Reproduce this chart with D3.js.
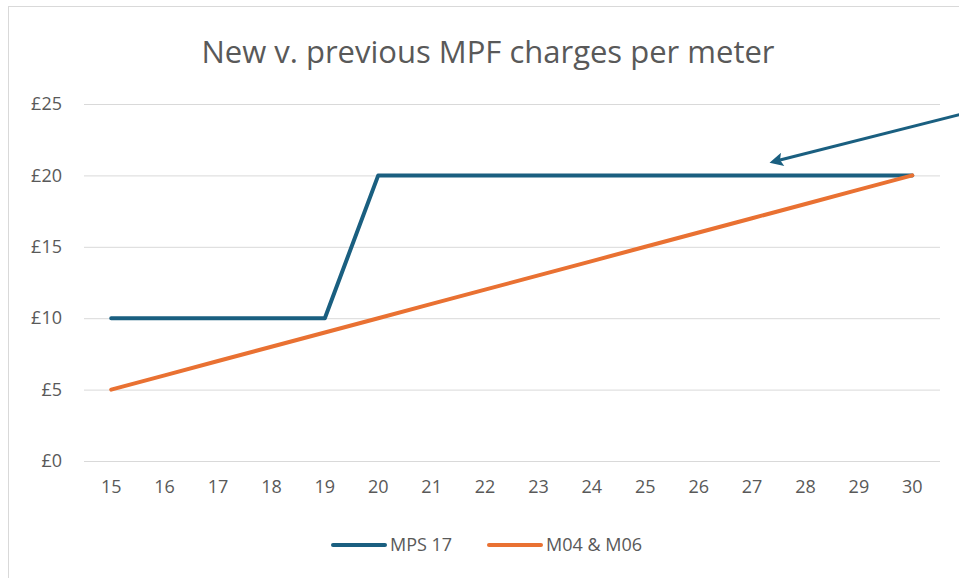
<!DOCTYPE html>
<meta charset="utf-8">
<style>
body { margin: 0; background: #fff; }
svg text { font-family: "Open Sans", Lato, sans-serif; fill: #595959; }
.grid line { stroke: #d9d9d9; stroke-width: 1; }
.grid .domain { display: none; }
.axis .domain { display: none; }
.axis line { display: none; }
</style>
<body>
<script src="https://cdn.jsdelivr.net/npm/d3@7/dist/d3.min.js"></script>
<script>
var years = [15, 16, 17, 18, 19, 20, 21, 22, 23, 24, 25, 26, 27, 28, 29, 30]
var mps17 = [10, 10, 10, 10, 10, 20, 20, 20, 20, 20, 20, 20, 20, 20, 20, 20]
var m04m06 = [5, 6, 7, 8, 9, 10, 11, 12, 13, 14, 15, 16, 17, 18, 19, 20]
var yTicks = [0, 5, 10, 15, 20, 25]
var seriesNames = ['MPS 17', 'M04 & M06']
var colors = ['#1a5f80', '#e97132']

var width = 959, height = 578
var svg = d3.select('body').append('svg')
    .attr('width', width).attr('height', height)

// chart frame
svg.append('rect')
    .attr('x', 8.5).attr('y', 6.5)
    .attr('width', 1000).attr('height', 1000)
    .attr('fill', 'none').attr('stroke', '#d9d9d9')

svg.append('text')
    .attr('x', 488).attr('y', 63)
    .attr('text-anchor', 'middle')
    .style('font-size', '31px')
    .text('New v. previous MPF charges per meter')

var x = d3.scaleBand().domain(years).range([84.5, 939])
var y = d3.scaleLinear().domain([0, 25]).range([461, 104])

svg.append('g')
    .attr('class', 'grid')
    .attr('transform', 'translate(84,0)')
    .call(d3.axisLeft(y).tickValues(yTicks).tickSize(-856).tickFormat(''))

svg.append('g')
    .attr('class', 'axis')
    .attr('transform', 'translate(62,0)')
    .call(d3.axisLeft(y).tickValues(yTicks).tickSize(0).tickPadding(0)
        .tickFormat(function (d) { return '£' + d }))
    .selectAll('text')
    .style('font-size', '18px')

svg.append('g')
    .attr('class', 'axis')
    .attr('transform', 'translate(0,480)')
    .call(d3.axisBottom(x).tickSize(0).tickPadding(0))
    .selectAll('text')
    .style('font-size', '18px')

var line = d3.line()
    .x(function (d, i) { return x(years[i]) + x.bandwidth() / 2 })
    .y(function (d) { return y(d) })

;[mps17, m04m06].forEach(function (s, i) {
    svg.append('path')
        .datum(s)
        .attr('d', line)
        .attr('fill', 'none')
        .attr('stroke', colors[i])
        .attr('stroke-width', 4)
        .attr('stroke-linejoin', 'round')
        .attr('stroke-linecap', 'round')
})

// legend
var legendX = [331, 487]
seriesNames.forEach(function (name, i) {
    svg.append('line')
        .attr('x1', legendX[i] + 2).attr('x2', legendX[i] + 54)
        .attr('y1', 545).attr('y2', 545)
        .attr('stroke', colors[i]).attr('stroke-width', 4)
        .attr('stroke-linecap', 'round')
    svg.append('text')
        .attr('x', legendX[i] + 59).attr('y', 551)
        .style('font-size', '18px')
        .text(name)
})

// annotation arrow
svg.append('defs').append('marker')
    .attr('id', 'head')
    .attr('viewBox', '0 0 10 10')
    .attr('refX', 2).attr('refY', 5)
    .attr('markerWidth', 5.5).attr('markerHeight', 4.5)
    .attr('orient', 'auto')
    .attr('markerUnits', 'strokeWidth')
    .append('path')
    .attr('d', 'M0,0L10,5L0,10L2,5z')
    .attr('fill', '#1a5f80')

svg.append('line')
    .attr('x1', 962).attr('y1', 114)
    .attr('x2', 780).attr('y2', 160)
    .attr('stroke', '#1a5f80').attr('stroke-width', 3)
    .attr('marker-end', 'url(#head)')
</script>
</body>
